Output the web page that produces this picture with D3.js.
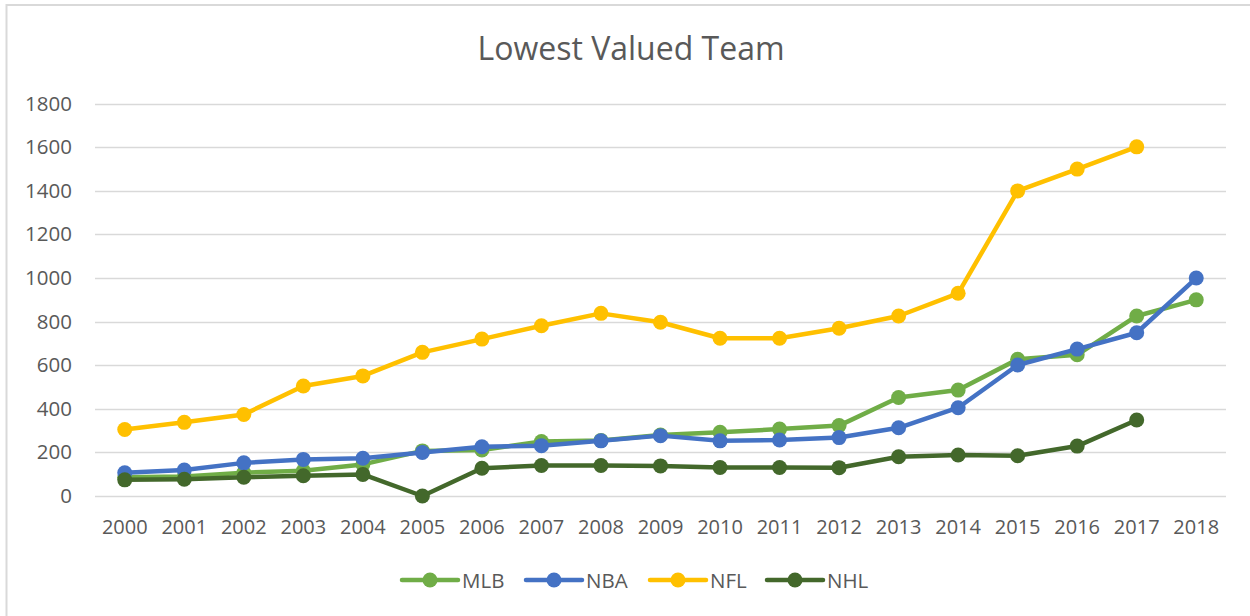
<!DOCTYPE html>
<html>
<head>
<meta charset="utf-8">
<script src="https://cdn.jsdelivr.net/npm/d3@7"></script>
<style>
  body { margin: 0; background: #fff; }
  text { font-family: "Open Sans", sans-serif; fill: #595959; }
</style>
</head>
<body>
<main></main>
<script>
const width = 1250;
const height = 616;

// data
const years = ['2000', '2001', '2002', '2003', '2004', '2005', '2006', '2007', '2008', '2009',
               '2010', '2011', '2012', '2013', '2014', '2015', '2016', '2017', '2018'];
const mlb = [86, 90, 107, 116, 145, 207, 211, 250, 255, 280, 292, 307, 323, 452, 486, 627, 648, 826, 900];
const nba = [107, 119, 152, 168, 173, 200, 226, 231, 253, 277, 253, 257, 268, 313, 405, 601, 674, 749, 1000];
const nfl = [305, 338, 374, 505, 551, 659, 720, 781, 838, 797, 724, 724, 770, 826, 930, 1400, 1500, 1602, null];
const nhl = [74, 77, 86, 93, 99, 0, 127, 140, 140, 138, 131, 131, 130, 180, 188, 185, 229, 349, null];
const yTicks = [0, 200, 400, 600, 800, 1000, 1200, 1400, 1600, 1800];

const series = [
  {name: 'MLB', values: mlb, color: '#70ad47'},
  {name: 'NBA', values: nba, color: '#4472c4'},
  {name: 'NFL', values: nfl, color: '#ffc000'},
  {name: 'NHL', values: nhl, color: '#43682b'}
];

const svg = d3.select('main')
  .append('svg')
  .attr('width', width)
  .attr('height', height);

// chart border (cut off at right / bottom in the reference)
svg.append('rect')
  .attr('x', 6.5).attr('y', 5)
  .attr('width', 1260).attr('height', 640)
  .attr('fill', 'none')
  .attr('stroke', '#d9d9d9')
  .attr('stroke-width', 2);

svg.append('text')
  .attr('x', 631)
  .attr('y', 60)
  .attr('text-anchor', 'middle')
  .style('font-size', '32px')
  .text('Lowest Valued Team');

const x = d3.scalePoint()
  .domain(years)
  .range([95, 1226])
  .padding(0.5);

const y = d3.scaleLinear()
  .domain([0, 1800])
  .range([496, 103.7]);

// gridlines
svg.append('g')
  .selectAll('line')
  .data(yTicks)
  .enter()
  .append('line')
  .attr('x1', 95)
  .attr('x2', 1226)
  .attr('y1', d => Math.round(y(d)) + 0.5)
  .attr('y2', d => Math.round(y(d)) + 0.5)
  .attr('stroke', '#d9d9d9')
  .attr('stroke-width', 1.5);

// y labels
svg.append('g')
  .selectAll('text')
  .data(yTicks)
  .enter()
  .append('text')
  .attr('x', 72)
  .attr('y', d => y(d) + 7)
  .attr('text-anchor', 'end')
  .style('font-size', '20.5px')
  .text(d => d);

// x labels
svg.append('g')
  .selectAll('text')
  .data(years)
  .enter()
  .append('text')
  .attr('x', d => x(d))
  .attr('y', 534)
  .attr('text-anchor', 'middle')
  .style('font-size', '20px')
  .text(d => d);

const line = d3.line()
  .defined(d => d.v != null)
  .x(d => x(d.year))
  .y(d => y(d.v));

series.forEach(s => {
  const pts = years.map((yr, i) => ({year: yr, v: s.values[i]}));
  const g = svg.append('g');
  g.append('path')
    .datum(pts)
    .attr('d', line)
    .attr('fill', 'none')
    .attr('stroke', s.color)
    .attr('stroke-width', 4.5)
    .attr('stroke-linejoin', 'round')
    .attr('stroke-linecap', 'round');
  g.selectAll('circle')
    .data(pts.filter(d => d.v != null))
    .enter()
    .append('circle')
    .attr('cx', d => x(d.year))
    .attr('cy', d => y(d.v))
    .attr('r', 7.5)
    .attr('fill', s.color);
});

// legend
const legendX = [402, 526, 650, 767];
const legend = svg.append('g')
  .selectAll('g')
  .data(series)
  .enter()
  .append('g')
  .attr('transform', (d, i) => 'translate(' + legendX[i] + ', 580)');

legend.append('line')
  .attr('x1', 0).attr('x2', 56)
  .attr('y1', 0).attr('y2', 0)
  .attr('stroke', d => d.color)
  .attr('stroke-width', 4.5)
  .attr('stroke-linecap', 'round');

legend.append('circle')
  .attr('cx', 28).attr('cy', 0).attr('r', 7.5)
  .attr('fill', d => d.color);

legend.append('text')
  .attr('x', 60)
  .attr('y', 7.5)
  .style('font-size', '20.5px')
  .text(d => d.name);
</script>
</body>
</html>
